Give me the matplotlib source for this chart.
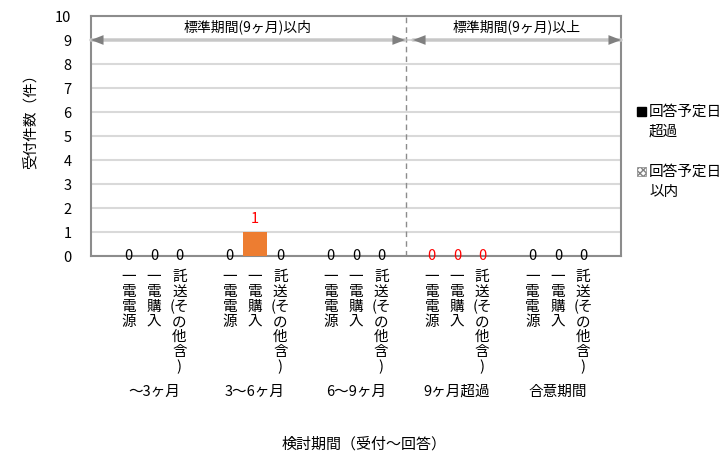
import matplotlib
matplotlib.use("Agg")
import matplotlib.pyplot as plt
from matplotlib.patches import Rectangle

# ── データ ──────────────────────────────────────────────
periods = ["〜3ヶ月", "3〜6ヶ月", "6〜9ヶ月", "9ヶ月超過", "合意期間"]
kinds = ["一電電源", "一電購入", "託送(その他含)"]
counts = [
    [0, 0, 0],   # 〜3ヶ月
    [0, 1, 0],   # 3〜6ヶ月
    [0, 0, 0],   # 6〜9ヶ月
    [0, 0, 0],   # 9ヶ月超過
    [0, 0, 0],   # 合意期間
]
yticks = list(range(0, 11))
band_labels = ["標準期間(9ヶ月)以内", "標準期間(9ヶ月)以上"]
legend_labels = ["回答予定日\n超過", "回答予定日\n以内"]

plt.rcParams["font.family"] = ["Noto Sans CJK JP", "DejaVu Sans"]
plt.rcParams["font.size"] = 10

GRID = "#D9D9D9"
SPINE = "#8C8C8C"
BAR = "#ED7D31"
RED = "#FF0000"


def _stack(text):
    """縦書き風: 1文字ずつ改行（半角括弧は次の文字と同じ行）。"""
    lines = []
    for ch in text:
        if lines and lines[-1] == "(":
            lines[-1] += ch
        else:
            lines.append(ch)
    return "\n".join(lines)


fig = plt.figure(figsize=(7.27, 4.51), dpi=100)
ax = fig.add_axes([91 / 727, 195 / 451, 530 / 727, 240 / 451])

step = len(kinds) + 1
xs, names, vals, groups = [], [], [], []
for g, period in enumerate(periods):
    for k, kind in enumerate(kinds):
        xs.append(g * step + k + 1)
        names.append(_stack(kind))
        vals.append(counts[g][k])
        groups.append(period)
nslots = len(periods) * step + 1

ax.bar(xs, vals, width=0.95, color=BAR, zorder=3)

# データラベル
for x, v, p in zip(xs, vals, groups):
    color = RED if (p == "9ヶ月超過" or v > 0) else "black"
    if v > 0:
        ax.annotate(f"{v}", (x, v), textcoords="offset points", xytext=(0, 4),
                    ha="center", va="bottom", color=color, fontsize=10.5)
    else:
        ax.text(x, 0, f"{v}", ha="center", va="center", color=color, fontsize=10.5,
                zorder=5)

ax.set_xlim(-0.5, nslots - 0.5)
ax.set_ylim(0, 10)
ax.set_yticks(yticks)
ax.set_xticks(xs)
ax.set_xticklabels(names, linespacing=1.08, va="top", fontsize=10.5)
ax.tick_params(axis="both", length=0)
ax.tick_params(axis="y", labelsize=10.5, pad=14)
ax.tick_params(axis="x", pad=10)
ax.yaxis.grid(True, color=GRID, linewidth=1.5, zorder=0)
ax.set_axisbelow(True)
for s in ax.spines.values():
    s.set_color(SPINE)
    s.set_linewidth(1.5)

# 標準期間の区切り
divider = 3 * step
ax.axvline(divider, color="#8C8C8C", linestyle=(0, (4, 3)), linewidth=1, zorder=2)

spans = [(-0.5, divider - 0.06), (divider + 0.26, nslots - 0.5)]
for (a, b), lab in zip(spans, band_labels):
    ax.annotate("", xy=(b, 9), xytext=(a, 9),
                arrowprops=dict(arrowstyle="-", color="#C8C8C8", lw=2.5,
                                shrinkA=0, shrinkB=0), zorder=4)
    ax.annotate("", xy=(b, 9), xytext=(a, 9),
                arrowprops=dict(arrowstyle="<|-|>,head_length=0.9,head_width=0.35",
                                fc="#808080", ec="#808080", lw=0.01,
                                shrinkA=0, shrinkB=0), zorder=4)
    ax.text((a + b) / 2, 9.55, lab, ha="center", va="center", fontsize=10)

# グループラベル
trans = ax.get_xaxis_transform()
for g, period in enumerate(periods):
    ax.text(g * step + 2, -0.567, period, transform=trans, ha="center",
            va="center", fontsize=10.5)

ax.set_xlabel("検討期間（受付〜回答）", fontsize=10.8)
ax.xaxis.set_label_coords(0.515, -0.754)
ax.set_ylabel("受付件数（件）", fontsize=10.5)
ax.yaxis.set_label_coords(-0.1, 0.575)

# 凡例
fig.add_artist(Rectangle((637 / 727, 1 - 116 / 451), 9 / 727, 9 / 451,
                         transform=fig.transFigure, facecolor="black", edgecolor="black"))
fig.add_artist(Rectangle((637 / 727, 1 - 176 / 451), 9 / 727, 9 / 451,
                         transform=fig.transFigure, facecolor="white",
                         edgecolor="#808080", hatch="xxxxx", linewidth=0.5))
fig.text(649 / 727, 1 - 122 / 451, legend_labels[0], ha="left", va="center",
         fontsize=10.5, linespacing=1.55)
fig.text(649 / 727, 1 - 182 / 451, legend_labels[1], ha="left", va="center",
         fontsize=10.5, linespacing=1.55)

fig.savefig("out.png", dpi=100)
